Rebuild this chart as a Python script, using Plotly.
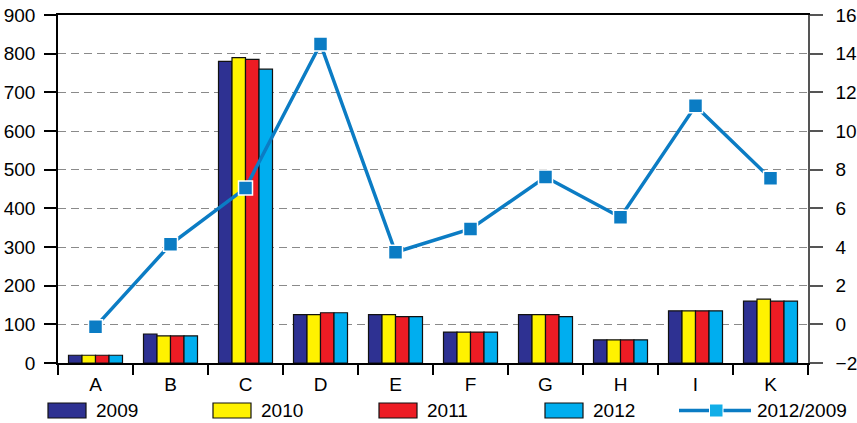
import plotly.graph_objects as go

categories = ["A", "B", "C", "D", "E", "F", "G", "H", "I", "K"]
v2009 = [20, 75, 780, 125, 125, 80, 125, 60, 135, 160]
v2010 = [20, 70, 790, 125, 125, 80, 125, 60, 135, 165]
v2011 = [20, 70, 785, 130, 120, 80, 125, 60, 135, 160]
v2012 = [20, 70, 760, 130, 120, 80, 120, 60, 135, 160]
ratio = [-0.12, 4.14, 7.05, 14.5, 3.73, 4.93, 7.62, 5.54, 11.3, 7.55]

series_names = ["2009", "2010", "2011", "2012"]
series_vals = [v2009, v2010, v2011, v2012]
colors = ["#2e3192", "#fff200", "#ed1c24", "#00aeef"]
line_color = "#0b7cc4"
line_name = "2012/2009"

FONT = "Arial, Liberation Sans, sans-serif"

fig = go.Figure()
for name, vals, col in zip(series_names, series_vals, colors):
    fig.add_trace(go.Bar(x=categories, y=vals, name=name, marker_color=col,
                         marker_line_color="#111", marker_line_width=1.2,
                         showlegend=False, yaxis="y"))
fig.add_trace(go.Scatter(x=categories, y=ratio, name=line_name, mode="lines+markers",
                         line=dict(color=line_color, width=3.5),
                         marker=dict(symbol="square", size=14, color=line_color,
                                     line=dict(color="white", width=1.5)),
                         showlegend=False, yaxis="y2"))

FW, FH = 857, 423
L, R, T, B = 58, 808, 15, 363
W, H = R - L, B - T
def px(x):
    return (x - L) / W
def py(y):
    return (B - y) / H

shapes = []
annotations = []
leg_x = [48, 213, 379, 545]
for name, col, x0 in zip(series_names, colors, leg_x):
    shapes.append(dict(type="rect", xref="paper", yref="paper",
                       x0=px(x0), x1=px(x0 + 38), y0=py(418), y1=py(403),
                       fillcolor=col, line=dict(color="#111", width=1.2)))
    annotations.append(dict(text=name, xref="paper", yref="paper", x=px(x0 + 46), y=py(410.5),
                            xanchor="left", yanchor="middle", showarrow=False,
                            font=dict(size=19, color="black", family=FONT)))
# line legend
shapes.append(dict(type="line", xref="paper", yref="paper", x0=px(679), x1=px(751),
                   y0=py(410.5), y1=py(410.5), line=dict(color=line_color, width=3.5)))
shapes.append(dict(type="rect", xref="paper", yref="paper", x0=px(709.5), x1=px(723),
                   y0=py(417), y1=py(404), fillcolor="#12aee8", line=dict(color="white", width=1)))
annotations.append(dict(text=line_name, xref="paper", yref="paper", x=px(755), y=py(410.5),
                        xanchor="left", yanchor="middle", showarrow=False,
                        font=dict(size=19, color="black", family=FONT)))

fig.update_layout(
    width=FW, height=FH, autosize=False,
    margin=dict(l=L, r=FW - R, t=T, b=FH - B, pad=0, autoexpand=False),
    paper_bgcolor="white", plot_bgcolor="white",
    font=dict(family=FONT, size=19, color="black"),
    barmode="group", bargap=0.28, bargroupgap=0,
    showlegend=False,
    shapes=shapes, annotations=annotations,
    xaxis=dict(type="category", range=[-0.5, len(categories) - 0.5], automargin=False,
               tickson="boundaries", ticks="outside", ticklen=10,
               tickcolor="black", tickwidth=1.5, showline=True, linecolor="black", linewidth=1.5,
               mirror=True, showgrid=False, tickfont=dict(size=19), ticklabelstandoff=3),
    yaxis=dict(range=[0, 900], dtick=100, ticks="outside", ticklen=12, tickcolor="black",
               tickwidth=1.5, showline=True, linecolor="black", linewidth=1.5, automargin=False,
               showgrid=True, gridcolor="#8a8a8a", gridwidth=1.2, griddash="8px,5px",
               zeroline=False, tickfont=dict(size=19), ticklabelstandoff=5,
               ticklabeloverflow="allow"),
    yaxis2=dict(range=[-2, 16], dtick=2, overlaying="y", side="right", ticks="outside",
                ticklen=13, tickcolor="#555", tickwidth=1.5, showline=True, linecolor="#555",
                linewidth=1.5, showgrid=False, zeroline=False, tickfont=dict(size=19),
                automargin=False, ticklabelstandoff=9, ticklabeloverflow="allow"),
)

fig.write_html("out.html", config={"displayModeBar": False},
               post_script="document.body.style.margin='0';")
